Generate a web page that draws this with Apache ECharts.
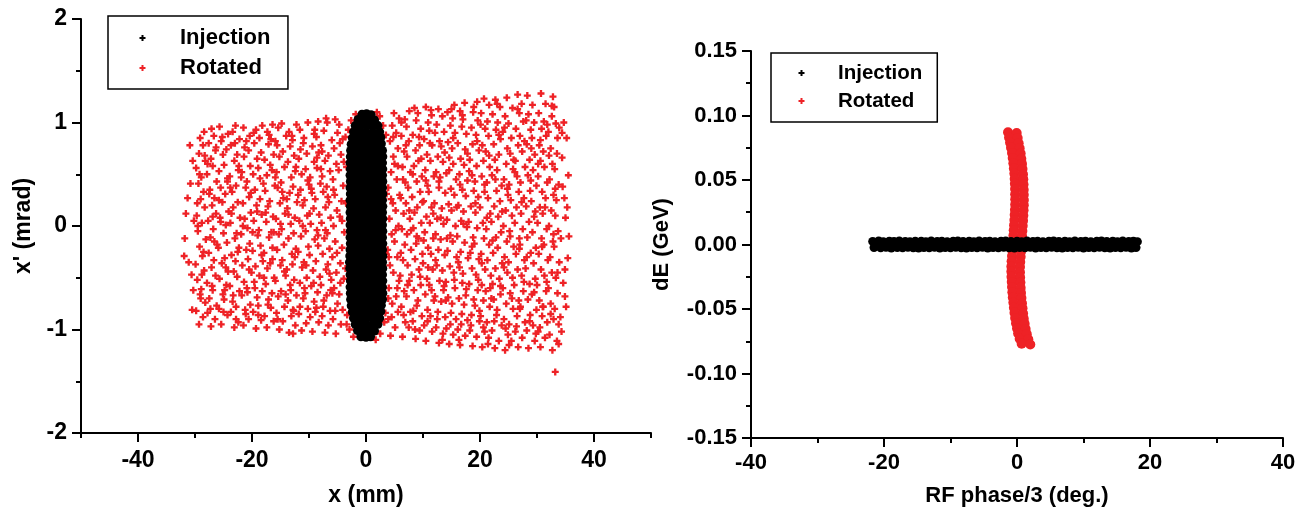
<!DOCTYPE html>
<html><head><meta charset="utf-8">
<script src="https://cdn.jsdelivr.net/npm/echarts@6/dist/echarts.min.js"></script>
<style>html,body{margin:0;padding:0;background:#fff}#c{width:1311px;height:516px}</style>
</head><body><div id="c"></div>
<script>
// ---- tick labels ----
const leftXMajorTicks = [-40, -20, 0, 20, 40];
const seriesNames = ['Injection', 'Rotated'];

// ---- Left panel: Rotated (x mm, x' mrad), left half ----
const rotatedLeftA = [
[-31.6,0.12],[-30.4,0.63],[-31.1,-0.35],[-30.8,0.41],[-31.8,-0.12],[-30.3,-0.62],[-30.9,0.78],[-30.5,-0.81],[-31.3,0.27],[-30.2,0.05],[-30.6,-0.47],[-31.9,-0.29],
[-29.3,-0.95],[-28.6,-0.88],[-29.8,-0.82],[-28.2,-0.74],[-29.1,-0.66],[-28.9,-0.61],[-29.6,-0.52],[-28.4,-0.43],[-29.9,-0.37],[-28.7,-0.29],[-29.2,-0.2],[-28.1,-0.13],[-29.5,-0.05],[-28.8,0.03],[-29.7,0.1],[-28.3,0.18],[-29.0,0.26],[-28.5,0.33],[-29.4,0.41],[-28.9,0.47],[-29.8,0.56],[-28.2,0.63],[-29.3,0.7],[-28.6,0.78],[-29.1,0.85],[-28.4,0.91],
[-27.2,-0.97],[-26.5,-0.9],[-27.8,-0.84],[-26.2,-0.77],[-27.5,-0.7],[-26.9,-0.62],[-27.9,-0.55],[-26.4,-0.48],[-27.1,-0.4],[-26.7,-0.33],[-27.6,-0.26],[-26.1,-0.18],[-27.3,-0.11],[-26.8,-0.03],[-27.7,0.05],[-26.3,0.12],[-27.0,0.2],[-26.6,0.27],[-27.4,0.35],[-26.2,0.43],[-27.9,0.5],[-26.9,0.58],[-27.2,0.65],[-26.4,0.73],[-27.6,0.8],[-26.7,0.87],[-27.1,0.94],
[-25.4,-0.95],[-24.3,-0.86],[-25.8,-0.8],[-24.9,-0.71],[-25.1,-0.66],[-24.5,-0.57],[-25.7,-0.51],[-24.2,-0.44],[-25.3,-0.36],[-24.8,-0.31],[-25.9,-0.21],[-24.4,-0.16],[-25.0,-0.07],[-24.6,0.01],[-25.6,0.08],[-24.1,0.14],[-25.2,0.23],[-24.7,0.31],[-25.5,0.37],[-24.3,0.46],[-25.8,0.53],[-24.9,0.59],[-25.1,0.69],[-24.5,0.74],[-25.4,0.82],[-24.2,0.89],[-25.7,0.96],
[-23.1,-0.98],[-22.4,-0.93],[-23.7,-0.83],[-22.8,-0.78],[-23.4,-0.73],[-22.2,-0.63],[-23.9,-0.58],[-22.6,-0.49],[-23.2,-0.44],[-22.9,-0.34],[-23.6,-0.28],[-22.3,-0.21],[-23.0,-0.12],[-22.7,-0.07],[-23.8,0.03],[-22.1,0.08],[-23.3,0.18],[-22.5,0.23],[-23.5,0.33],[-22.8,0.39],[-23.9,0.48],[-22.4,0.54],[-23.1,0.63],[-22.6,0.69],[-23.7,0.78],[-22.2,0.84],[-23.4,0.91],[-22.9,0.97],
[-21.5,-0.96],[-20.6,-0.9],[-21.2,-0.81],[-20.3,-0.76],[-21.8,-0.67],[-20.9,-0.6],[-21.4,-0.54],[-20.1,-0.45],[-21.7,-0.38],[-20.7,-0.32],[-21.0,-0.23],[-20.4,-0.17],[-21.9,-0.08],[-20.8,-0.02],[-21.3,0.07],[-20.2,0.13],[-21.6,0.22],[-20.5,0.28],[-21.1,0.37],[-20.9,0.43],[-21.8,0.52],[-20.3,0.58],[-21.4,0.67],[-20.6,0.73],[-21.0,0.82],[-20.4,0.87],[-21.5,0.95],
[-19.3,-0.99],[-18.4,-0.91],[-19.8,-0.83],[-18.9,-0.77],[-19.1,-0.69],[-18.2,-0.63],[-19.6,-0.54],[-18.7,-0.48],[-19.4,-0.39],[-18.1,-0.34],[-19.9,-0.24],[-18.5,-0.19],[-19.0,-0.09],[-18.8,-0.04],[-19.7,0.05],[-18.3,0.11],[-19.2,0.2],[-18.6,0.26],[-19.5,0.35],[-18.0,0.41],[-19.8,0.5],[-18.9,0.56],[-19.1,0.65],[-18.4,0.71],[-19.6,0.8],[-18.7,0.85],[-19.3,0.93],[-18.2,0.97],
[-17.4,-0.98],[-16.2,-0.92],[-17.8,-0.87],[-16.7,-0.79],[-17.1,-0.71],[-16.5,-0.65],[-17.6,-0.56],[-16.1,-0.5],[-17.3,-0.41],[-16.8,-0.36],[-17.9,-0.26],[-16.4,-0.21],[-17.0,-0.11],[-16.6,-0.06],[-17.5,0.04],[-16.3,0.09],[-17.2,0.19],[-16.9,0.24],[-17.7,0.34],[-16.0,0.39],[-17.4,0.49],[-16.5,0.54],[-17.8,0.64],[-16.2,0.69],[-17.1,0.79],[-16.7,0.84],[-17.3,0.91],[-16.4,0.98],
[-15.2,-1.0],[-14.6,-0.92],[-15.7,-0.84],[-14.3,-0.78],[-15.4,-0.68],[-14.9,-0.63],[-15.9,-0.53],[-14.1,-0.48],[-15.0,-0.38],[-14.7,-0.33],[-15.6,-0.23],[-14.4,-0.18],[-15.3,-0.08],[-14.8,-0.03],[-15.8,0.07],[-14.2,0.12],[-15.1,0.22],[-14.5,0.27],[-15.5,0.37],[-14.9,0.42],[-15.7,0.52],[-14.3,0.57],[-15.2,0.67],[-14.6,0.72],[-15.9,0.82],[-14.0,0.87],[-15.4,0.95],[-14.8,0.99],
[-13.5,-1.03],[-12.4,-0.96],[-13.1,-0.87],[-12.8,-0.81],[-13.7,-0.72],[-12.2,-0.67],[-13.3,-0.57],[-12.6,-0.52],[-13.9,-0.42],[-12.9,-0.37],[-13.0,-0.27],[-12.3,-0.22],[-13.6,-0.12],[-12.7,-0.07],[-13.2,0.02],[-12.5,0.08],[-13.8,0.17],[-12.1,0.23],[-13.4,0.32],[-12.8,0.38],[-13.1,0.47],[-12.4,0.53],[-13.7,0.62],[-12.6,0.68],[-13.3,0.77],[-12.9,0.83],[-13.5,0.91],[-12.2,0.98],[-12.8,-1.04],
[-11.3,-1.01],[-10.5,-0.94],[-11.8,-0.85],[-10.2,-0.8],[-11.0,-0.7],[-10.7,-0.65],[-11.6,-0.55],[-10.4,-0.5],[-11.2,-0.4],[-10.9,-0.35],[-11.9,-0.25],[-10.1,-0.2],[-11.4,-0.1],[-10.6,-0.05],[-11.7,0.05],[-10.3,0.1],[-11.1,0.2],[-10.8,0.25],[-11.5,0.35],[-10.0,0.4],[-11.3,0.5],[-10.6,0.55],[-11.8,0.65],[-10.4,0.7],[-11.0,0.8],[-10.9,0.85],[-11.6,0.93],[-10.2,1.0],
[-9.4,-1.02],[-8.3,-0.93],[-9.8,-0.88],[-8.7,-0.79],[-9.1,-0.73],[-8.5,-0.64],[-9.6,-0.58],[-8.1,-0.49],[-9.3,-0.43],[-8.8,-0.34],[-9.9,-0.28],[-8.4,-0.19],[-9.0,-0.13],[-8.6,-0.04],[-9.7,0.02],[-8.2,0.11],[-9.2,0.17],[-8.9,0.26],[-9.5,0.32],[-8.0,0.41],[-9.8,0.47],[-8.6,0.56],[-9.1,0.62],[-8.3,0.71],[-9.4,0.77],[-8.7,0.86],[-9.0,0.93],[-8.4,1.01],
[-7.2,-1.03],[-6.6,-0.96],[-7.7,-0.87],[-6.3,-0.82],[-7.4,-0.72],[-6.9,-0.67],[-7.9,-0.57],[-6.1,-0.52],[-7.0,-0.42],[-6.7,-0.37],[-7.6,-0.27],[-6.4,-0.22],[-7.3,-0.12],[-6.8,-0.07],[-7.8,0.03],[-6.2,0.08],[-7.1,0.18],[-6.5,0.23],[-7.5,0.33],[-6.9,0.38],[-7.7,0.48],[-6.3,0.53],[-7.2,0.63],[-6.6,0.68],[-7.9,0.78],[-6.0,0.83],[-7.4,0.92],[-6.8,1.0],[-7.0,1.04],
[-5.3,-1.04],[-4.4,-0.95],[-5.8,-0.9],[-4.1,-0.81],[-5.0,-0.75],[-4.7,-0.66],[-5.6,-0.6],[-3.9,-0.51],[-5.2,-0.45],[-4.5,-0.36],[-5.9,-0.3],[-4.2,-0.21],[-5.4,-0.15],[-3.8,-0.06],[-5.7,0.0],[-4.6,0.09],[-5.1,0.15],[-4.3,0.24],[-5.5,0.3],[-4.0,0.39],[-5.8,0.45],[-4.8,0.54],[-5.2,0.6],[-4.4,0.69],[-5.6,0.75],[-4.1,0.84],[-5.0,0.9],[-4.7,0.98],[-5.4,1.03],
[-2.6,1.02],[-3.1,0.93],[-1.8,1.08],[-3.4,-0.95],[-2.2,-1.07],[-2.9,-1.0],[-3.6,0.86],[-3.3,-0.86],[-3.5,0.22],[-3.6,-0.41],[-3.4,0.57]
];
// ---- Left panel: Rotated, right half ----
const rotatedLeftB = [
[2.4,1.06],[3.0,0.97],[1.9,1.1],[3.2,-0.93],[2.5,-1.04],[1.7,-1.1],[3.5,0.88],[3.4,-0.84],[3.6,0.31],[3.5,-0.27],
[4.3,-1.06],[5.1,-0.98],[3.9,-0.9],[5.6,-0.83],[4.6,-0.75],[5.3,-0.68],[4.0,-0.6],[5.8,-0.53],[4.8,-0.45],[4.2,-0.38],[5.5,-0.3],[3.8,-0.23],[5.0,-0.15],[4.5,-0.08],[5.7,0.0],[4.1,0.07],[5.2,0.15],[4.7,0.22],[5.9,0.3],[3.9,0.37],[5.4,0.45],[4.4,0.52],[5.0,0.6],[4.8,0.67],[5.6,0.75],[4.2,0.82],[5.3,0.9],[4.6,0.97],[5.8,1.04],[4.9,1.09],
[6.4,-1.07],[7.5,-0.98],[6.9,-0.93],[7.8,-0.83],[6.2,-0.78],[7.1,-0.68],[6.7,-0.63],[7.6,-0.53],[6.0,-0.48],[7.3,-0.38],[6.5,-0.33],[7.9,-0.23],[6.8,-0.18],[7.2,-0.08],[6.3,-0.03],[7.7,0.07],[6.6,0.12],[7.0,0.22],[6.1,0.27],[7.4,0.37],[6.9,0.42],[7.8,0.52],[6.4,0.57],[7.2,0.67],[6.7,0.72],[7.5,0.82],[6.2,0.87],[7.1,0.96],[6.8,1.03],[7.6,1.11],
[8.7,-1.09],[9.4,-1.01],[8.2,-0.92],[9.8,-0.87],[8.9,-0.77],[9.1,-0.72],[8.4,-0.62],[9.6,-0.57],[8.0,-0.47],[9.3,-0.42],[8.6,-0.32],[9.9,-0.27],[8.8,-0.17],[9.2,-0.12],[8.3,-0.02],[9.7,0.03],[8.5,0.13],[9.0,0.18],[8.1,0.28],[9.5,0.33],[8.9,0.43],[9.8,0.48],[8.4,0.58],[9.2,0.63],[8.7,0.73],[9.4,0.78],[8.2,0.88],[9.6,0.94],[8.8,1.02],[9.1,1.09],[8.5,1.14],
[10.5,-1.11],[11.6,-1.02],[10.2,-0.96],[11.3,-0.87],[10.8,-0.81],[11.9,-0.72],[10.4,-0.66],[11.1,-0.57],[10.7,-0.51],[11.7,-0.42],[10.0,-0.36],[11.4,-0.27],[10.9,-0.21],[11.8,-0.12],[10.3,-0.06],[11.2,0.03],[10.6,0.09],[11.5,0.18],[10.1,0.24],[11.0,0.33],[10.8,0.39],[11.9,0.48],[10.4,0.54],[11.3,0.63],[10.7,0.69],[11.6,0.78],[10.2,0.84],[11.1,0.92],[10.9,1.0],[11.5,1.07],[10.5,1.15],
[12.8,-1.13],[13.5,-1.04],[12.3,-0.98],[13.9,-0.88],[12.6,-0.83],[13.2,-0.73],[12.1,-0.68],[13.7,-0.58],[12.9,-0.53],[13.4,-0.43],[12.4,-0.38],[13.8,-0.28],[12.7,-0.23],[13.1,-0.13],[12.2,-0.08],[13.6,0.02],[12.5,0.07],[13.3,0.17],[12.0,0.22],[13.9,0.32],[12.8,0.37],[13.0,0.47],[12.3,0.52],[13.5,0.62],[12.6,0.67],[13.2,0.77],[12.9,0.82],[13.7,0.91],[12.4,0.98],[13.4,1.06],[12.7,1.13],
[14.6,-1.14],[15.3,-1.05],[14.1,-0.99],[15.8,-0.9],[14.9,-0.84],[15.1,-0.75],[14.4,-0.69],[15.6,-0.6],[14.0,-0.54],[15.4,-0.45],[14.7,-0.39],[15.9,-0.3],[14.3,-0.24],[15.2,-0.15],[14.8,-0.09],[15.7,0.0],[14.2,0.06],[15.0,0.15],[14.5,0.21],[15.5,0.3],[14.9,0.36],[15.8,0.45],[14.1,0.51],[15.3,0.6],[14.6,0.66],[15.1,0.75],[14.4,0.81],[15.6,0.9],[14.8,0.97],[15.2,1.04],[14.3,1.1],[15.5,1.17],
[16.5,-1.15],[17.4,-1.06],[16.1,-1.0],[17.8,-0.91],[16.8,-0.85],[17.2,-0.76],[16.3,-0.7],[17.6,-0.61],[16.9,-0.55],[17.0,-0.46],[16.4,-0.4],[17.9,-0.31],[16.6,-0.25],[17.3,-0.16],[16.0,-0.1],[17.7,-0.01],[16.7,0.05],[17.1,0.14],[16.2,0.2],[17.5,0.29],[16.9,0.35],[17.8,0.44],[16.4,0.5],[17.2,0.59],[16.6,0.65],[17.4,0.74],[16.1,0.8],[17.6,0.89],[16.8,0.96],[17.0,1.03],[16.5,1.11],[17.3,1.19],
[18.7,-1.16],[19.4,-1.07],[18.2,-1.01],[19.9,-0.92],[18.5,-0.86],[19.1,-0.77],[18.9,-0.71],[19.6,-0.62],[18.1,-0.56],[19.3,-0.47],[18.6,-0.41],[19.8,-0.32],[18.3,-0.26],[19.0,-0.17],[18.8,-0.11],[19.5,-0.02],[18.0,0.04],[19.2,0.13],[18.4,0.19],[19.7,0.28],[18.9,0.34],[19.1,0.43],[18.6,0.49],[19.4,0.58],[18.2,0.64],[19.8,0.73],[18.7,0.79],[19.3,0.88],[18.5,0.95],[19.6,1.02],[18.8,1.1],[19.5,1.2],
[20.4,-1.17],[21.5,-1.08],[20.8,-1.02],[21.2,-0.93],[20.1,-0.87],[21.7,-0.78],[20.6,-0.72],[21.0,-0.63],[20.3,-0.57],[21.9,-0.48],[20.9,-0.42],[21.3,-0.33],[20.2,-0.27],[21.6,-0.18],[20.7,-0.12],[21.1,-0.03],[20.5,0.03],[21.8,0.12],[20.0,0.18],[21.4,0.27],[20.8,0.33],[21.2,0.42],[20.3,0.48],[21.7,0.57],[20.6,0.63],[21.0,0.72],[20.4,0.78],[21.5,0.87],[20.9,0.94],[21.3,1.01],[20.2,1.09],[21.6,1.17],[20.7,1.23],
[22.6,-1.18],[23.3,-1.11],[22.1,-1.01],[23.8,-0.96],[22.9,-0.86],[23.0,-0.81],[22.4,-0.71],[23.6,-0.66],[22.2,-0.56],[23.4,-0.51],[22.7,-0.41],[23.9,-0.36],[22.3,-0.26],[23.1,-0.21],[22.8,-0.11],[23.7,-0.06],[22.0,0.04],[23.2,0.09],[22.5,0.19],[23.5,0.24],[22.9,0.34],[23.8,0.39],[22.1,0.49],[23.0,0.54],[22.6,0.64],[23.3,0.69],[22.4,0.79],[23.6,0.84],[22.8,0.93],[23.1,1.0],[22.2,1.08],[23.5,1.15],[22.7,1.22],
[24.4,-1.2],[25.5,-1.11],[24.9,-1.05],[25.1,-0.95],[24.2,-0.9],[25.8,-0.8],[24.6,-0.75],[25.3,-0.65],[24.0,-0.6],[25.7,-0.5],[24.8,-0.45],[25.0,-0.35],[24.3,-0.3],[25.9,-0.2],[24.7,-0.15],[25.2,-0.05],[24.1,0.0],[25.6,0.1],[24.5,0.15],[25.4,0.25],[24.9,0.3],[25.1,0.4],[24.2,0.45],[25.8,0.55],[24.6,0.6],[25.3,0.7],[24.8,0.75],[25.5,0.85],[24.0,0.91],[25.0,0.99],[24.4,1.06],[25.7,1.14],[24.7,1.24],
[26.7,-1.17],[27.4,-1.08],[26.2,-1.02],[27.9,-0.93],[26.5,-0.87],[27.1,-0.78],[26.8,-0.72],[27.6,-0.63],[26.0,-0.57],[27.3,-0.48],[26.6,-0.42],[27.8,-0.33],[26.3,-0.27],[27.0,-0.18],[26.9,-0.12],[27.5,-0.03],[26.1,0.03],[27.2,0.12],[26.4,0.18],[27.7,0.27],[26.8,0.33],[27.1,0.42],[26.5,0.48],[27.9,0.57],[26.2,0.63],[27.4,0.72],[26.7,0.78],[27.0,0.87],[26.3,0.94],[27.6,1.01],[26.9,1.09],[27.3,1.18],[26.6,1.27],
[28.5,-1.18],[29.6,-1.11],[28.2,-1.01],[29.3,-0.96],[28.8,-0.86],[29.9,-0.81],[28.4,-0.71],[29.1,-0.66],[28.7,-0.56],[29.7,-0.51],[28.0,-0.41],[29.4,-0.36],[28.9,-0.26],[29.8,-0.21],[28.3,-0.11],[29.2,-0.06],[28.6,0.04],[29.5,0.09],[28.1,0.19],[29.0,0.24],[28.8,0.34],[29.9,0.39],[28.4,0.49],[29.3,0.54],[28.7,0.64],[29.6,0.69],[28.2,0.79],[29.1,0.85],[28.9,0.93],[29.5,1.0],[28.5,1.08],[29.2,1.17],[28.3,1.26],
[30.6,-1.17],[31.4,-1.08],[30.2,-1.02],[31.8,-0.93],[30.9,-0.87],[31.1,-0.78],[30.4,-0.72],[31.6,-0.63],[30.0,-0.57],[31.3,-0.48],[30.7,-0.42],[31.9,-0.33],[30.3,-0.27],[31.2,-0.18],[30.8,-0.12],[31.7,-0.03],[30.1,0.03],[31.0,0.12],[30.5,0.18],[31.5,0.27],[30.9,0.33],[31.8,0.42],[30.2,0.48],[31.3,0.57],[30.6,0.63],[31.1,0.72],[30.4,0.78],[31.6,0.87],[30.8,0.94],[31.2,1.01],[30.3,1.09],[31.5,1.18],[30.7,1.28],
[32.7,-1.2],[33.5,-1.11],[32.2,-1.05],[33.8,-0.95],[32.9,-0.9],[33.1,-0.8],[32.4,-0.75],[33.6,-0.65],[32.0,-0.6],[33.3,-0.5],[32.6,-0.45],[33.9,-0.35],[32.3,-0.3],[33.0,-0.2],[32.8,-0.15],[33.7,-0.05],[32.1,0.0],[33.2,0.1],[32.5,0.15],[33.4,0.25],[32.9,0.3],[33.8,0.4],[32.2,0.45],[33.1,0.55],[32.7,0.6],[33.5,0.7],[32.4,0.75],[33.6,0.85],[32.0,0.91],[33.3,0.99],[32.6,1.06],[33.0,1.15],[32.8,1.25],
[34.3,-1.02],[35.1,-0.78],[34.6,-0.55],[35.4,-0.31],[34.2,-0.12],[35.0,0.08],[34.8,0.27],[35.5,0.49],[34.4,0.66],[35.2,0.85],[34.7,1.0],[34.1,-0.88],[34.9,-0.42],[34.5,0.38],
[33.2,-1.41]
];
// ---- Left panel: Rotated, extra points filling the cloud ----
const rotatedLeftC = [
[-29.0,-0.7],[-28.5,-0.25],[-29.6,0.22],[-28.3,0.68],[-29.2,0.5],[-28.8,-0.47],[-29.5,0.0],
[-27.0,-0.58],[-26.6,-0.15],[-27.5,0.31],[-26.3,0.76],[-27.3,-0.8],[-26.9,0.09],[-27.8,0.6],
[-25.0,-0.83],[-24.6,-0.4],[-25.5,0.04],[-24.3,0.43],[-25.2,0.86],[-24.8,-0.62],[-25.8,0.25],
[-23.3,-0.67],[-22.5,-0.25],[-23.6,0.12],[-22.3,0.58],[-23.0,0.8],[-22.8,-0.9],[-23.8,0.37],
[-21.1,-0.85],[-20.5,-0.42],[-21.6,0.0],[-20.2,0.32],[-21.3,0.76],[-20.8,-0.64],[-21.9,0.47],
[-19.5,-0.6],[-18.3,-0.28],[-19.1,0.14],[-18.6,0.46],[-19.7,0.9],[-18.9,-0.86],[-19.9,-0.06],
[-17.2,-0.76],[-16.4,-0.32],[-17.6,0.13],[-16.8,0.59],[-17.0,0.88],[-16.2,-0.06],[-17.9,-0.5],
[-15.5,-0.9],[-14.3,-0.44],[-15.0,0.02],[-14.7,0.33],[-15.6,0.78],[-14.1,-0.66],[-15.9,0.47],
[-13.2,-0.62],[-12.5,-0.3],[-13.6,0.11],[-12.3,0.57],[-13.0,0.87],[-12.7,-0.82],[-13.9,0.26],
[-11.6,-0.78],[-10.5,-0.38],[-11.1,0.0],[-10.2,0.44],[-11.5,0.74],[-10.8,-0.6],[-11.9,0.3],
[-9.2,-0.55],[-8.4,-0.09],[-9.6,0.36],[-8.6,0.66],[-9.1,0.89],[-8.9,-0.83],[-9.9,0.12],
[-7.5,-0.78],[-6.4,-0.46],[-7.1,-0.04],[-6.7,0.28],[-7.7,0.72],[-6.2,-0.62],[-7.9,0.55],
[-5.4,-0.82],[-4.5,-0.55],[-5.1,-0.26],[-4.2,0.05],[-5.7,0.35],[-4.6,0.8],[-3.9,0.62],[-5.9,-0.65],
[4.5,-0.88],[5.5,-0.6],[4.0,-0.3],[5.2,-0.04],[4.4,0.26],[5.6,0.58],[4.8,0.86],[3.9,-0.7],
[6.6,-0.86],[7.3,-0.57],[6.1,-0.26],[7.6,0.15],[6.5,0.45],[7.0,0.78],[7.9,-0.04],[6.2,1.0],
[8.3,-0.82],[9.5,-0.49],[8.9,-0.1],[9.9,0.23],[8.2,0.5],[9.3,0.86],[8.6,-1.0],[9.7,0.65],
[10.8,-0.92],[11.5,-0.62],[10.1,-0.14],[11.8,0.12],[10.5,0.44],[11.2,0.8],[10.9,-0.4],[11.4,1.12],
[12.5,-0.9],[13.6,-0.62],[12.2,-0.33],[13.1,0.08],[12.8,0.43],[13.8,0.71],[12.1,0.9],[13.4,-1.1],
[14.8,-0.95],[15.5,-0.52],[14.2,-0.12],[15.9,0.18],[14.6,0.54],[15.3,0.85],[14.0,-0.72],[15.0,1.13],
[16.7,-0.95],[17.5,-0.67],[16.2,-0.35],[17.1,0.02],[16.5,0.4],[17.8,0.7],[16.9,1.07],[16.3,-1.1],
[18.4,-0.96],[19.7,-0.52],[18.6,-0.2],[19.2,0.22],[18.1,0.53],[19.5,0.82],[18.9,1.15],[19.9,-0.82],
[20.6,-0.98],[21.8,-0.6],[20.3,-0.36],[21.2,0.08],[20.8,0.4],[21.6,0.68],[20.1,0.98],[21.4,-1.14],
[22.5,-0.92],[23.6,-0.58],[22.2,-0.14],[23.9,0.14],[22.7,0.45],[23.3,0.88],[22.0,-0.7],[23.0,1.18],
[24.5,-0.99],[25.6,-0.7],[24.2,-0.4],[25.3,-0.1],[24.8,0.36],[25.9,0.64],[24.3,0.95],[25.1,-1.15],
[26.4,-0.97],[27.7,-0.54],[26.9,-0.22],[27.3,0.23],[26.1,0.52],[27.8,0.82],[26.6,1.13],[27.0,-0.8],
[28.7,-0.92],[29.5,-0.64],[28.2,-0.3],[29.7,0.14],[28.9,0.44],[29.0,0.75],[28.1,1.02],[29.8,-1.04],
[30.5,-0.98],[31.7,-0.54],[30.9,-0.2],[31.4,0.18],[30.2,0.6],[31.8,0.98],[30.6,0.83],[31.0,-0.78],
[32.4,-0.85],[33.6,-0.45],[32.9,-0.08],[33.2,0.36],[32.1,0.68],[33.9,0.95],[32.6,1.16],[33.8,-1.14],
[34.9,-0.68],[35.3,0.18],[34.4,0.9],[35.6,-0.1]
];
// ---- Left panel: Injection ----
const injectionLeft = [
[-0.7,1.08],[0.1,1.085],[0.9,1.075],
[-1.4,1.03],[-0.5,1.035],[0.5,1.03],[1.5,1.025],
[-1.9,0.97],[-0.9,0.975],[0.1,0.97],[1.1,0.965],[2.1,0.97],
[-2.2,0.91],[-1.1,0.915],[0.0,0.91],[1.2,0.905],[2.4,0.91],
[-2.4,0.85],[-1.5,0.855],[-0.5,0.85],[0.6,0.845],[1.6,0.85],[2.6,0.855],
[-2.6,0.79],[-1.6,0.795],[-0.6,0.79],[0.4,0.785],[1.5,0.79],[2.7,0.795],
[-2.7,0.73],[-1.8,0.735],[-0.8,0.73],[0.2,0.725],[1.2,0.73],[2.1,0.735],[2.9,0.73],
[-2.75,0.67],[-1.8,0.675],[-0.85,0.67],[0.1,0.665],[1.05,0.67],[2.0,0.675],[2.95,0.67],
[-2.8,0.61],[-1.85,0.615],[-0.9,0.61],[0.05,0.605],[1.0,0.61],[1.95,0.615],[2.9,0.61],
[-2.75,0.55],[-1.8,0.555],[-0.85,0.55],[0.1,0.545],[1.05,0.55],[2.0,0.555],[2.95,0.55],
[-2.8,0.49],[-1.85,0.495],[-0.9,0.49],[0.05,0.485],[1.0,0.49],[1.95,0.495],[2.9,0.49],
[-2.75,0.43],[-1.8,0.435],[-0.85,0.43],[0.1,0.425],[1.05,0.43],[2.0,0.435],[2.95,0.43],
[-2.8,0.37],[-1.85,0.375],[-0.9,0.37],[0.05,0.365],[1.0,0.37],[1.95,0.375],[2.9,0.37],
[-2.75,0.31],[-1.8,0.315],[-0.85,0.31],[0.1,0.305],[1.05,0.31],[2.0,0.315],[2.95,0.31],
[-2.8,0.25],[-1.85,0.255],[-0.9,0.25],[0.05,0.245],[1.0,0.25],[1.95,0.255],[2.9,0.25],
[-2.75,0.19],[-1.8,0.195],[-0.85,0.19],[0.1,0.185],[1.05,0.19],[2.0,0.195],[2.95,0.19],
[-2.8,0.13],[-1.85,0.135],[-0.9,0.13],[0.05,0.125],[1.0,0.13],[1.95,0.135],[2.9,0.13],
[-2.75,0.07],[-1.8,0.075],[-0.85,0.07],[0.1,0.065],[1.05,0.07],[2.0,0.075],[2.95,0.07],
[-2.8,0.01],[-1.85,0.015],[-0.9,0.01],[0.05,0.005],[1.0,0.01],[1.95,0.015],[2.9,0.01],
[-2.75,-0.05],[-1.8,-0.045],[-0.85,-0.05],[0.1,-0.055],[1.05,-0.05],[2.0,-0.045],[2.95,-0.05],
[-2.8,-0.11],[-1.85,-0.105],[-0.9,-0.11],[0.05,-0.115],[1.0,-0.11],[1.95,-0.105],[2.9,-0.11],
[-2.75,-0.17],[-1.8,-0.165],[-0.85,-0.17],[0.1,-0.175],[1.05,-0.17],[2.0,-0.165],[2.95,-0.17],
[-2.8,-0.23],[-1.85,-0.225],[-0.9,-0.23],[0.05,-0.235],[1.0,-0.23],[1.95,-0.225],[2.9,-0.23],
[-2.85,-0.29],[-1.8,-0.285],[-0.85,-0.29],[0.1,-0.295],[1.05,-0.29],[2.0,-0.285],[2.95,-0.29],
[-2.9,-0.35],[-1.85,-0.345],[-0.9,-0.35],[0.05,-0.355],[1.0,-0.35],[1.95,-0.345],[2.9,-0.35],
[-2.85,-0.41],[-1.8,-0.405],[-0.85,-0.41],[0.1,-0.415],[1.05,-0.41],[2.0,-0.405],[2.95,-0.41],
[-2.8,-0.47],[-1.85,-0.465],[-0.9,-0.47],[0.05,-0.475],[1.0,-0.47],[1.95,-0.465],[2.9,-0.47],
[-2.75,-0.53],[-1.8,-0.525],[-0.85,-0.53],[0.1,-0.535],[1.05,-0.53],[2.0,-0.525],[2.95,-0.53],
[-2.8,-0.59],[-1.85,-0.585],[-0.9,-0.59],[0.05,-0.595],[1.0,-0.59],[1.95,-0.585],[2.9,-0.59],
[-2.75,-0.65],[-1.8,-0.645],[-0.85,-0.65],[0.1,-0.655],[1.05,-0.65],[2.0,-0.645],[2.95,-0.65],
[-2.7,-0.71],[-1.8,-0.705],[-0.8,-0.71],[0.2,-0.715],[1.2,-0.71],[2.1,-0.705],[2.9,-0.71],
[-2.6,-0.77],[-1.6,-0.765],[-0.6,-0.77],[0.4,-0.775],[1.5,-0.77],[2.7,-0.765],
[-2.4,-0.83],[-1.5,-0.825],[-0.5,-0.83],[0.6,-0.835],[1.6,-0.83],[2.6,-0.825],
[-2.2,-0.89],[-1.1,-0.885],[0.0,-0.89],[1.2,-0.895],[2.4,-0.89],
[-1.9,-0.95],[-0.9,-0.945],[0.1,-0.95],[1.1,-0.955],[2.1,-0.95],
[-1.5,-1.01],[-0.5,-1.005],[0.5,-1.01],[1.5,-1.015],
[-0.9,-1.07],[0.0,-1.075],[0.8,-1.07]
];
// ---- Right panel: Injection (RF phase/3 deg, dE GeV) ----
const injectionRight = [
[-21.7,0.0024],[-20.8,0.0027],[-20.1,0.0022],[-19.2,0.0026],[-18.5,0.0023],[-17.7,0.0028],[-16.8,0.0024],[-16.1,0.0021],[-15.3,0.0026],[-14.4,0.0025],[-13.7,0.0022],[-12.9,0.0027],[-12.0,0.0024],[-11.3,0.0026],[-10.5,0.0021],[-9.6,0.0025],[-8.9,0.0028],[-8.1,0.0023],[-7.2,0.0025],[-6.5,0.0022],[-5.7,0.0027],[-4.8,0.0024],[-4.1,0.0026],[-3.3,0.0021],[-2.4,0.0025],[-1.7,0.0028],[-0.9,0.0023],[0.0,0.0025],[0.7,0.0022],[1.5,0.0027],[2.4,0.0024],[3.1,0.0026],[3.9,0.0021],[4.8,0.0025],[5.5,0.0028],[6.3,0.0023],[7.2,0.0025],[7.9,0.0022],[8.7,0.0027],[9.6,0.0024],[10.3,0.0026],[11.1,0.0021],[12.0,0.0025],[12.7,0.0028],[13.5,0.0023],[14.4,0.0025],[15.1,0.0022],[15.9,0.0027],[16.8,0.0024],[17.5,0.0026],[18.1,0.0022],
[-21.5,-0.0023],[-20.5,-0.0026],[-19.7,-0.0022],[-18.9,-0.0027],[-18.0,-0.0024],[-17.2,-0.0025],[-16.4,-0.0021],[-15.6,-0.0026],[-14.8,-0.0028],[-14.0,-0.0023],[-13.2,-0.0025],[-12.4,-0.0022],[-11.6,-0.0027],[-10.8,-0.0024],[-10.0,-0.0026],[-9.2,-0.0021],[-8.4,-0.0025],[-7.6,-0.0028],[-6.8,-0.0023],[-6.0,-0.0025],[-5.2,-0.0022],[-4.4,-0.0027],[-3.6,-0.0024],[-2.8,-0.0026],[-2.0,-0.0021],[-1.2,-0.0025],[-0.4,-0.0028],[0.4,-0.0023],[1.2,-0.0025],[2.0,-0.0022],[2.8,-0.0027],[3.6,-0.0024],[4.4,-0.0026],[5.2,-0.0021],[6.0,-0.0025],[6.8,-0.0028],[7.6,-0.0023],[8.4,-0.0025],[9.2,-0.0022],[10.0,-0.0027],[10.8,-0.0024],[11.6,-0.0026],[12.4,-0.0021],[13.2,-0.0025],[14.0,-0.0028],[14.8,-0.0023],[15.6,-0.0025],[16.4,-0.0022],[17.2,-0.0027],[17.9,-0.0024]
];
// ---- Right panel: Rotated ----
const rotatedRight = [
[-1.35,0.087],[-0.05,0.0865],[-1.2,0.083],[0.1,0.0825],[-1.05,0.079],[0.25,0.0785],[-0.9,0.075],[0.4,0.0745],
[-0.75,0.071],[0.55,0.0705],[-0.65,0.067],[0.65,0.0665],[-0.55,0.063],[0.75,0.0625],[-0.47,0.059],[0.83,0.0585],
[-0.4,0.055],[0.9,0.0545],[-0.35,0.051],[0.95,0.0505],[-0.32,0.047],[0.98,0.0465],[-0.29,0.043],[1.01,0.0425],
[-0.28,0.039],[1.02,0.0385],[-0.27,0.035],[1.03,0.0345],[-0.28,0.031],[1.02,0.0305],[-0.31,0.027],[0.99,0.0265],
[-0.35,0.023],[0.95,0.0225],[-0.39,0.019],[0.91,0.0185],[-0.44,0.015],[0.86,0.0145],[-0.49,0.011],[0.81,0.0105],
[-0.54,0.007],[0.76,0.0065],[-0.59,0.003],[0.71,0.0025],[-0.63,-0.001],[0.67,-0.0015],[-0.69,-0.005],[0.61,-0.0055],
[-0.75,-0.009],[0.55,-0.0095],[-0.81,-0.013],[0.49,-0.0135],[-0.85,-0.017],[0.45,-0.0175],[-0.85,-0.021],[0.45,-0.0215],
[-0.83,-0.025],[0.47,-0.0255],[-0.79,-0.029],[0.51,-0.0295],[-0.75,-0.033],[0.55,-0.0335],[-0.7,-0.037],[0.6,-0.0375],
[-0.63,-0.041],[0.67,-0.0415],[-0.55,-0.045],[0.75,-0.0455],[-0.47,-0.049],[0.83,-0.0495],[-0.38,-0.053],[0.92,-0.0535],
[-0.28,-0.057],[1.02,-0.0575],[-0.15,-0.061],[1.15,-0.0615],[0.0,-0.065],[1.3,-0.0655],[0.17,-0.069],[1.47,-0.0695],
[0.4,-0.073],[1.7,-0.0735],[0.7,-0.077],[2.0,-0.0775]
];

const RED = '#ee2226';
const FONT = "'Liberation Sans', Arial, sans-serif";
const PLUS = 'path://M1,0H2V1H3V2H2V3H1V2H0V1H1Z';
const AX = {color:'#000', width:2};
const TXT = (size) => ({fontSize:size, fontWeight:'bold', color:'#000', fontFamily:FONT});

function valueAxis(o){
  return Object.assign({
    type:'value', splitLine:{show:false},
    axisLine:{show:true, onZero:false, lineStyle:AX},
    axisTick:{show:true, length:9, lineStyle:AX},
    nameLocation:'middle'
  }, o);
}

const chart = echarts.init(document.getElementById('c'), null, {renderer:'canvas'});
chart.setOption({
  animation:false,
  backgroundColor:'#fff',
  textStyle:{fontFamily:FONT},
  grid:[
    {left:81, top:19, width:570, height:414},
    {left:751, top:51, width:532, height:387}
  ],
  legend:[
    {data:seriesNames, orient:'vertical', left:108, top:16, icon:PLUS, itemWidth:6, itemHeight:6,
     itemGap:6, padding:[10,17.5,9,31.5], borderColor:'#000', borderWidth:1.5, selectedMode:false,
     textStyle:Object.assign(TXT(22), {lineHeight:24, padding:[0,0,0,29.5]})},
    {data:seriesNames, orient:'vertical', left:771, top:53, icon:PLUS, itemWidth:6, itemHeight:6,
     itemGap:6, padding:[9,15,10,27.5], borderColor:'#000', borderWidth:1.5, selectedMode:false,
     textStyle:Object.assign(TXT(20.5), {lineHeight:22, padding:[0,0,0,28.5]})}
  ],
  xAxis:[
    valueAxis({gridIndex:0, min:-50, max:50, interval:10, position:'bottom',
      axisTick:{show:true, length:5, lineStyle:AX},
      axisLabel:Object.assign(TXT(23), {margin:16,
        formatter:v => leftXMajorTicks.indexOf(v) >= 0 ? String(v) : ''}),
      name:'x (mm)', nameGap:51, nameTextStyle:TXT(23)}),
    valueAxis({gridIndex:0, min:-50, max:50, position:'bottom', offset:0,
      axisLine:{show:false, onZero:false},
      axisTick:{show:true, length:9, lineStyle:AX, customValues:leftXMajorTicks},
      axisLabel:{show:false}}),
    valueAxis({gridIndex:1, min:-40, max:40, interval:20, position:'bottom',
      minorTick:{show:true, splitNumber:2, length:5, lineStyle:AX},
      axisLabel:Object.assign(TXT(22), {margin:14}),
      name:'RF phase/3 (deg.)', nameGap:47, nameTextStyle:TXT(22)})
  ],
  yAxis:[
    valueAxis({gridIndex:0, min:-2, max:2, interval:1, position:'left',
      minorTick:{show:true, splitNumber:2, length:5, lineStyle:AX},
      axisLabel:Object.assign(TXT(23), {margin:14}),
      name:"x' (mrad)", nameGap:46, nameTextStyle:TXT(23)}),
    valueAxis({gridIndex:1, min:-0.15, max:0.15, interval:0.05, position:'left',
      minorTick:{show:true, splitNumber:2, length:5, lineStyle:AX},
      axisLabel:Object.assign(TXT(22), {margin:14,
        formatter:v => (Math.abs(v) < 1e-9 ? 0 : v).toFixed(2)}),
      name:'dE (GeV)', nameGap:78, nameTextStyle:TXT(22)})
  ],
  series:[
    {name:'Rotated', type:'scatter', xAxisIndex:0, yAxisIndex:0,
     data:rotatedLeftA.concat(rotatedLeftB, rotatedLeftC),
     symbol:PLUS, symbolSize:7, itemStyle:{color:RED, opacity:1}, silent:true},
    {name:'Injection', type:'scatter', xAxisIndex:0, yAxisIndex:0, data:injectionLeft,
     symbol:'circle', symbolSize:9, itemStyle:{color:'#000', opacity:1}, silent:true},
    {name:'Rotated', type:'scatter', xAxisIndex:2, yAxisIndex:1, data:rotatedRight,
     symbol:'circle', symbolSize:10, itemStyle:{color:RED, opacity:1}, silent:true},
    {name:'Injection', type:'scatter', xAxisIndex:2, yAxisIndex:1, data:injectionRight,
     symbol:'circle', symbolSize:9, itemStyle:{color:'#000', opacity:1}, silent:true}
  ]
});
</script>
</body></html>
